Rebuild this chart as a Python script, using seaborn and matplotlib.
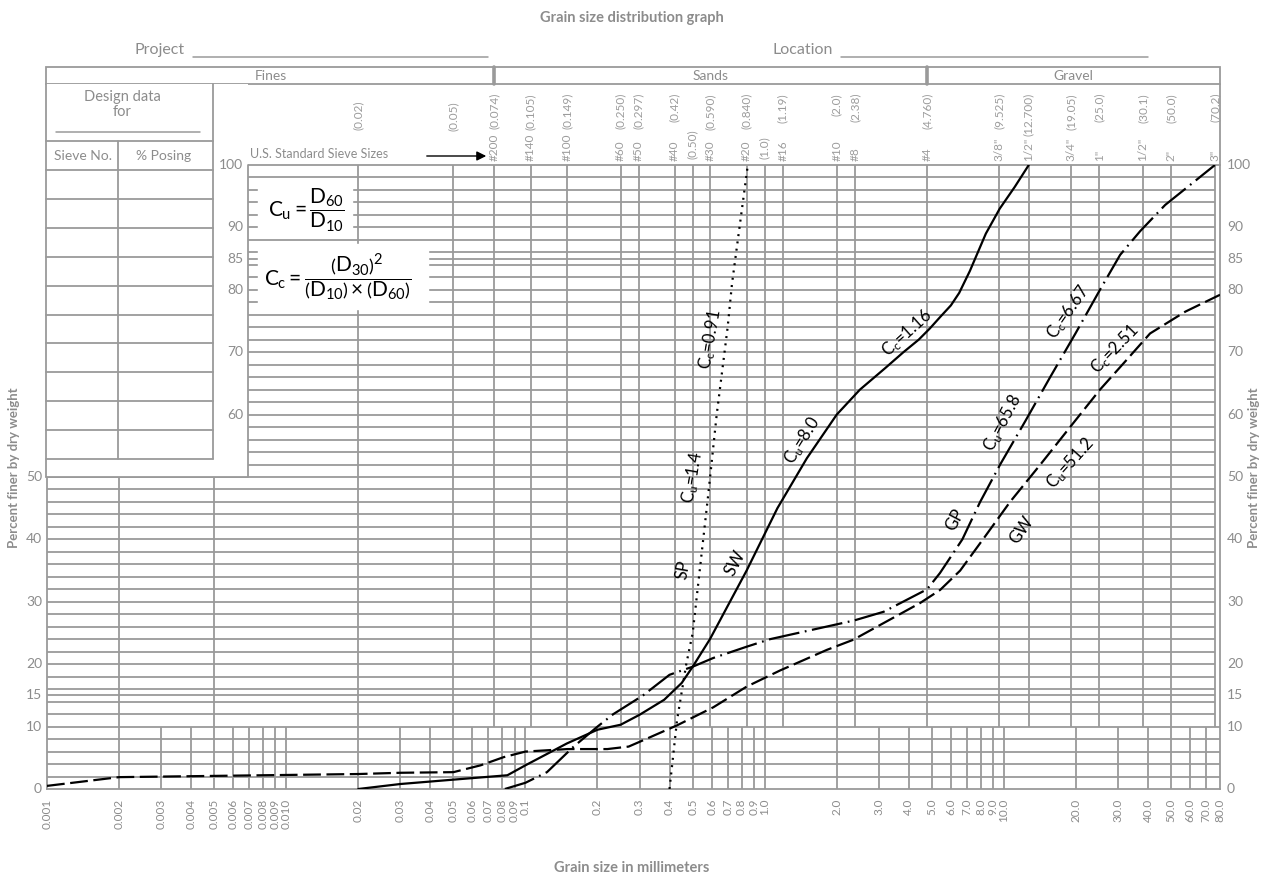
import matplotlib
matplotlib.use('Agg')
import matplotlib.pyplot as plt
import matplotlib.transforms as mtransforms
from matplotlib.patches import Rectangle
from matplotlib.ticker import NullLocator
import seaborn as sns

GRID = '#9a9a9a'
TEXT = '#8c8c8c'

# ----- grain size ticks along the bottom (mm) ----- #
size_ticks = [0.001, 0.002, 0.003, 0.004, 0.005, 0.006, 0.007, 0.008, 0.009, 0.010,
              0.02, 0.03, 0.04, 0.05, 0.06, 0.07, 0.08, 0.09, 0.1,
              0.2, 0.3, 0.4, 0.5, 0.6, 0.7, 0.8, 0.9, 1.0,
              2.0, 3.0, 4.0, 5.0, 6.0, 7.0, 8.0, 9.0, 10.0,
              20.0, 30.0, 40.0, 50.0, 60.0, 70.0, 80.0]
size_labels = ['0.001', '0.002', '0.003', '0.004', '0.005', '0.006', '0.007', '0.008', '0.009', '0.010',
               '0.02', '0.03', '0.04', '0.05', '0.06', '0.07', '0.08', '0.09', '0.1',
               '0.2', '0.3', '0.4', '0.5', '0.6', '0.7', '0.8', '0.9', '1.0',
               '2.0', '3.0', '4.0', '5.0', '6.0', '7.0', '8.0', '9.0', '10.0',
               '20.0', '30.0', '40.0', '50.0', '60.0', '70.0', '80.0']

# ----- US standard sieves ----- #
sieve_mm = [0.074, 0.105, 0.149, 0.250, 0.297, 0.42, 0.50, 0.590, 0.840, 1.0, 1.19,
            2.0, 2.38, 4.760, 9.525, 12.700, 19.05, 25.0, 38.1, 50.0, 76.2]
sieve_no = ['#200', '#140', '#100', '#60', '#50', '#40', '', '#30', '#20', '', '#16',
            '#10', '#8', '#4', '3/8"', '1/2"', '3/4"', '1"', '1/2"', '2"', '3"']
sieve_size_labels = ['(0.074)', '(0.105)', '(0.149)', '(0.250)', '(0.297)', '(0.42)', '(0.50)',
                     '(0.590)', '(0.840)', '(1.0)', '(1.19)', '(2.0)', '(2.38)', '(4.760)',
                     '(9.525)', '(12.700)', '(19.05)', '(25.0)', '(30.1)', '(50.0)', '(70.2)']
fines_mm = [0.002, 0.005, 0.02, 0.05]
fines_labels = ['', '', '(0.02)', '(0.05)']

# ----- percent scale ----- #
pct_labels = [0, 10, 15, 20, 30, 40, 50, 60, 70, 80, 85, 90, 100]
pct_lines_low = [2, 4, 6, 8, 10]
pct_lines_high = list(range(12, 100, 2)) + [15, 85]

# ----- gradation curves ----- #
sp_mm = [0.40, 0.43, 0.47, 0.50, 0.58, 0.63, 0.70, 0.73, 0.85]
sp_pct = [0, 11, 20, 25, 47, 60, 74, 81, 100]

sw_mm = [0.02, 0.03, 0.05, 0.084, 0.10, 0.149, 0.20, 0.25, 0.30, 0.38, 0.45, 0.50, 0.59,
         0.84, 1.13, 1.50, 2.0, 2.5, 3.2, 3.8, 4.4, 4.9, 5.4, 6.0, 6.5, 7.2, 8.4, 9.6, 11.1, 12.7]
sw_pct = [0, 0.8, 1.5, 2.2, 3.8, 7.3, 9.5, 10.3, 11.9, 14.3, 17, 19.6, 24,
          35, 45, 53, 60, 64, 67.5, 70, 72, 73.8, 75.6, 77.5, 79.5, 83, 89, 93, 96.5, 100]

gp_mm = [0.082, 0.10, 0.123, 0.158, 0.20, 0.233, 0.31, 0.40, 0.50, 0.61, 0.84, 1.05,
         2.36, 3.14, 4.77, 5.4, 6.7, 7.95, 9.64, 12.3, 15.6, 19.9, 25.2, 30.6, 37.1,
         47.2, 60.0, 76.2]
gp_pct = [0, 1, 2.7, 6.7, 10, 12, 15, 18.3, 19.6, 21, 22.8, 24,
          27, 28.4, 32, 34.6, 40, 46, 52, 59, 66, 73, 80, 85.6, 89.4,
          93.6, 96.8, 100]

gw_mm = [0.001, 0.002, 0.005, 0.02, 0.03, 0.05, 0.065, 0.081, 0.10, 0.15, 0.22, 0.27,
         0.31, 0.43, 0.61, 0.84, 1.16, 1.82, 2.34, 4.46, 5.41, 6.56, 8.35, 10.6, 14.2,
         18.9, 25.2, 32.1, 40.8, 57.3, 80]
gw_pct = [0.5, 1.9, 2.1, 2.4, 2.6, 2.7, 3.8, 5.1, 6.0, 6.4, 6.4, 6.8,
          7.8, 10.2, 13.1, 16.4, 19, 22.3, 23.9, 29.8, 31.9, 35, 40.5, 46, 52,
          58, 64, 68.5, 73, 76.5, 79.2]

# ----- labels along the curves: text, mm, %, angle ----- #
curve_notes = [('SP', 0.456, 35.1, 80), (r'C$_u$=1.4', 0.502, 50.0, 80),
               (r'C$_c$=0.91', 0.591, 72.0, 80), ('SW', 0.752, 36.2, 62),
               (r'C$_u$=8.0', 1.433, 55.9, 58), (r'C$_c$=1.16', 3.94, 73.1, 42),
               ('GP', 6.25, 43.1, 62), (r'C$_u$=65.8', 9.93, 58.7, 62),
               (r'C$_c$=6.67', 18.55, 76.4, 55), ('GW', 11.9, 41.5, 55),
               (r'C$_u$=51.2', 18.9, 52.2, 48), (r'C$_c$=2.51', 29.2, 70.4, 46)]


def draw_grid(ax):
    # ----- lower band (0-10 %) follows the mm ticks ----- #
    ax.vlines(size_ticks[1:-1], 0, 10, color=GRID, lw=1.3, zorder=1)
    ax.hlines(pct_lines_low, 0.001, 80, color=GRID, lw=1.3, zorder=1)
    # ----- upper band follows the sieves ----- #
    ax.vlines(fines_mm + sieve_mm, 10, 100, color=GRID, lw=1.3, zorder=1)
    ax.hlines(pct_lines_high, 0.001, 76.2, color=GRID, lw=1.3, zorder=1)
    # ----- white boxes for the formulas ----- #
    ax.add_patch(Rectangle((0.00762, 89.0), 0.01884 - 0.00762, 8.0, color='white', zorder=2))
    ax.add_patch(Rectangle((0.00762, 77.0), 0.0392 - 0.00762, 10.3, color='white', zorder=2))
    for side in ax.spines.values():
        side.set_color(GRID)
        side.set_linewidth(1.3)


def draw_curves(ax):
    kw = dict(ax=ax, color='black', lw=1.6, sort=False, estimator=None, zorder=3)
    sns.lineplot(x=sp_mm, y=sp_pct, linestyle=(0, (0.9, 2.4)), **kw)
    sns.lineplot(x=sw_mm, y=sw_pct, linestyle='-', **kw)
    sns.lineplot(x=gp_mm, y=gp_pct, linestyle=(0, (14, 2.5, 0.8, 2.5)), **kw)
    sns.lineplot(x=gw_mm, y=gw_pct, linestyle=(0, (8, 2.5)), **kw)
    for txt, xm, yp, ang in curve_notes:
        ax.text(xm, yp, txt, rotation=ang, rotation_mode='anchor', ha='center',
                va='center', fontsize=12, color='black', zorder=4)


def draw_frame(fig, ax):
    ov = fig.add_axes([0, 0, 1, 1], zorder=5)
    ov.set_xlim(0, 1264)
    ov.set_ylim(881, 0)
    ov.axis('off')
    tx = mtransforms.blended_transform_factory(ax.transData, ov.transData)
    ty = mtransforms.blended_transform_factory(ov.transData, ax.transData)

    def py(v):
        return ov.transData.inverted().transform(ax.transData.transform((1, v)))[1]

    # ----- titles ----- #
    ov.text(632, 18, 'Grain size distribution graph', ha='center', va='center',
            fontsize=10.5, fontweight='bold', color=TEXT)
    ov.text(632, 868, 'Grain size in millimeters', ha='center', va='center',
            fontsize=10.5, fontweight='bold', color=TEXT)
    for xx in (14, 1254):
        ov.text(xx, 468, 'Percent finer by dry weight', rotation=90, ha='center',
                va='center', fontsize=9.5, fontweight='bold', color=TEXT)

    # ----- project / location ----- #
    ov.text(185, 50, 'Project', ha='right', va='center', fontsize=11.5, color=TEXT)
    ov.plot([193, 488], [57, 57], color=GRID, lw=1.1)
    ov.text(833, 50, 'Location', ha='right', va='center', fontsize=11.5, color=TEXT)
    ov.plot([841, 1148], [57, 57], color=GRID, lw=1.1)

    # ----- fines / sands / gravel bar ----- #
    ov.add_patch(Rectangle((46, 67), 1174, 17, fill=False, edgecolor=GRID, lw=1.3))
    for xm in (0.074, 4.76):
        ov.plot([xm, xm], [67, 84], transform=tx, color=GRID, lw=2.6)
    for txt, xa, xb in (('Fines', 0.001, 0.074), ('Sands', 0.074, 4.76), ('Gravel', 4.76, 80)):
        ov.text((xa * xb) ** 0.5, 76, txt, transform=tx, ha='center', va='center',
                fontsize=10, color=TEXT)
    ov.plot([1220, 1220], [84, py(100)], color=GRID, lw=1.3)

    # ----- sieve labels ----- #
    sv = dict(transform=tx, rotation=90, ha='center', fontsize=8.5, color='#9c9c9c')
    for xm, no, lab in zip(sieve_mm, sieve_no, sieve_size_labels):
        if no:
            ov.text(xm, 161, no, va='bottom', **sv)
            ov.text(xm, 93, lab, va='top', **sv)
        else:
            ov.text(xm, 159, lab, va='bottom', **sv)
    for xm, lab in zip(fines_mm, fines_labels):
        if lab:
            ov.text(xm, 101, lab, va='top', **sv)
    ov.text(250, 154, 'U.S. Standard Sieve Sizes', ha='left', va='center',
            fontsize=9, color=TEXT)
    ov.annotate('', xy=(489, 156), xytext=(424, 156),
                arrowprops=dict(arrowstyle='-|>', color='black', lw=1, mutation_scale=14))

    # ----- design data table (covers the grid) ----- #
    y50, y100 = py(50), py(100)
    ov.add_patch(Rectangle((46, 84), 202, y50 - 84, facecolor='white', edgecolor='none', zorder=1))
    ov.plot([46, 46], [84, y50], color=GRID, lw=1.3, zorder=2)
    ov.plot([46, 248, 248], [y50, y50, y100], color=GRID, lw=1.3, zorder=2)
    ov.plot([213, 213], [84, 459], color=GRID, lw=1.3, zorder=2)
    ov.plot([118, 118], [141, 459], color=GRID, lw=1.3, zorder=2)
    rows = [141, 170] + [170 + 28.9 * k for k in range(1, 11)]
    for yy in rows:
        ov.plot([46, 213], [yy, yy], color=GRID, lw=1.3, zorder=2)
    ov.plot([56, 200], [132, 132], color=GRID, lw=1.1, zorder=2)
    ov.text(122, 97, 'Design data', ha='center', va='center', fontsize=10.5, color=TEXT, zorder=3)
    ov.text(122, 112, 'for', ha='center', va='center', fontsize=10.5, color=TEXT, zorder=3)
    ov.text(83, 156, 'Sieve No.', ha='center', va='center', fontsize=10, color=TEXT, zorder=3)
    ov.text(164, 156, '% Posing', ha='center', va='center', fontsize=10, color=TEXT, zorder=3)

    # ----- percent labels ----- #
    for v in pct_labels:
        xl = 42 if v <= 50 else 243
        ov.text(xl, v, str(v), transform=ty, ha='right', va='center', fontsize=10,
                color=TEXT, zorder=3)
        ov.text(1227, v, str(v), transform=ty, ha='left', va='center', fontsize=10,
                color=TEXT, zorder=3)

    # ----- coefficient formulas ----- #
    ov.text(268, 210, r'$C_u=\dfrac{D_{60}}{D_{10}}$', ha='left', va='center',
            fontsize=15, color='black', zorder=3)
    ov.text(264, 277, r'$C_c=\dfrac{\left(D_{30}\right)^2}{\left(D_{10}\right)\times\left(D_{60}\right)}$',
            ha='left', va='center', fontsize=15, color='black', zorder=3)


def main():
    sns.set_theme(style='white')
    plt.rcParams['font.family'] = ['Lato', 'DejaVu Sans']
    plt.rcParams['mathtext.fontset'] = 'custom'
    plt.rcParams['mathtext.rm'] = 'Lato'
    plt.rcParams['mathtext.it'] = 'Lato'
    plt.rcParams['mathtext.bf'] = 'Lato:bold'

    fig = plt.figure(figsize=(12.64, 8.81), dpi=100)
    ax = fig.add_axes([47 / 1264, 92 / 881, 1173 / 1264, 624 / 881])
    ax.set_xscale('log')
    ax.set_xlim(0.001, 80)
    ax.set_ylim(0, 100)
    ax.grid(False)

    draw_grid(ax)
    draw_curves(ax)

    ax.set_xticks(size_ticks, labels=size_labels)
    ax.xaxis.set_minor_locator(NullLocator())
    ax.tick_params(axis='x', length=0, pad=7, labelsize=8.5, labelcolor=TEXT, labelrotation=90)
    ax.set_yticks([])
    ax.set_xlabel('')
    ax.set_ylabel('')

    draw_frame(fig, ax)
    fig.savefig('out.png', dpi=100)


if __name__ == '__main__':
    main()
